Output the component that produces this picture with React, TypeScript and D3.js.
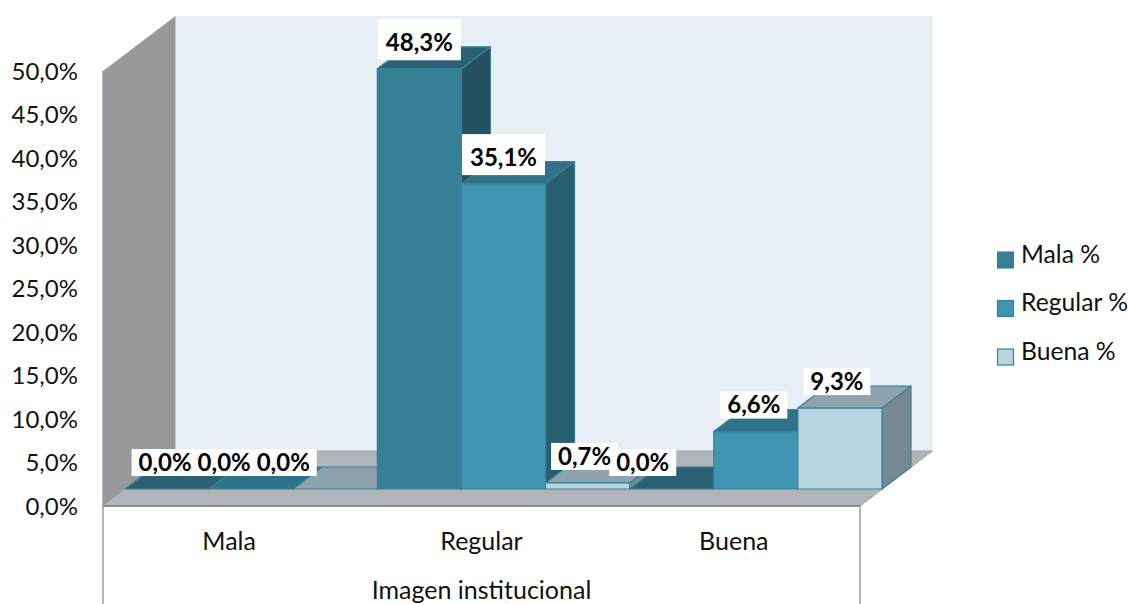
import React from "react";
import * as d3 from "d3";

// Survey results for "Imagen institucional", percentages per answer group.
const categories = ["Mala", "Regular", "Buena"];
const seriesNames = ["Mala %", "Regular %", "Buena %"];
const malaValues = [0.0, 48.3, 0.0];
const regularValues = [0.0, 35.1, 6.6];
const buenaValues = [0.0, 0.7, 9.3];
const axisTicks = [0, 5, 10, 15, 20, 25, 30, 35, 40, 45, 50];
const axisTitle = "Imagen institucional";

// Horizontal nudges that keep neighbouring value labels from colliding.
const labelNudge = [
  [-2, -27, -52],
  [0, 0, -3],
  [-29, -2, -3],
];

const W = 1128;
const H = 604;
const FONT = "Lato, Carlito, 'Open Sans', sans-serif";
const comma = (v: number, d = 1) => v.toFixed(d).replace(".", ",");

const palettes = [
  { front: "#367f97", side: "#24505f", top: "#2a6273", edge: "#3a8199" },
  { front: "#4096b2", side: "#29606f", top: "#307287", edge: "#3a8199" },
  { front: "#b9d4e1", side: "#788890", top: "#8ea3ae", edge: "#3a8199" },
];

const pts = (p: [number, number][]) => p.map((q) => q.join(",")).join(" ");

export default function App() {
  // Oblique projection: the wall scale is measured on the front plane,
  // bars stand part way into the floor.
  const frontLeft = 103;
  const frontRight = 860;
  const depthX = 72.5;
  const depthY = 55;
  const yAxis = d3.scaleLinear().domain([0, 50]).range([506, 71]);
  const bandX = d3.scaleBand<string>().domain(categories).range([frontLeft, frontRight]);

  const barBase = 489;
  const barDX = 29;
  const barDY = 22;
  const barH = d3.scaleLinear().domain([0, 50]).range([0, yAxis(0) - yAxis(50)]);
  const barStart = d3
    .scaleBand<string>()
    .domain(categories)
    .range([125, 882]);
  const inner = d3
    .scaleBand<number>()
    .domain([0, 1, 2])
    .range([0, barStart.bandwidth()]);

  const table = [malaValues, regularValues, buenaValues];
  const bars = categories.flatMap((cat, c) =>
    table.map((vals, s) => {
      const x0 = (barStart(cat) as number) + (inner(s) as number);
      const x1 = x0 + inner.bandwidth();
      const top = barBase - barH(vals[c]);
      return { c, s, v: vals[c], x0, x1, top };
    })
  );

  const yTop = yAxis(50);
  const yBot = yAxis(0);
  const legendY = d3.scalePoint<string>().domain(seriesNames).range([260, 357]);

  return (
    <svg
      width={W}
      height={H}
      viewBox={`0 0 ${W} ${H}`}
      style={{ position: "fixed", left: 0, top: 0, background: "#fff" }}
      fontFamily={FONT}
    >
      {/* back wall */}
      <rect
        x={frontLeft + depthX}
        y={yTop - depthY}
        width={frontRight - frontLeft}
        height={yBot - yTop}
        fill="#e7eef6"
      />
      {/* side wall */}
      <polygon
        points={pts([
          [frontLeft, yTop],
          [frontLeft + depthX, yTop - depthY],
          [frontLeft + depthX, yBot - depthY],
          [frontLeft, yBot],
        ])}
        fill="#97999d"
      />
      {/* floor */}
      <polygon
        points={pts([
          [frontLeft, yBot],
          [frontLeft + depthX, yBot - depthY],
          [frontRight + depthX, yBot - depthY],
          [frontRight, yBot],
        ])}
        fill="#b0b5b9"
        stroke="#a0a4a8"
        strokeWidth={1}
      />
      <line x1={frontLeft} x2={frontRight} y1={yBot} y2={yBot} stroke="#8b8c8e" strokeWidth={2} />
      <line x1={frontLeft} x2={frontLeft} y1={yTop} y2={H} stroke="#9a9b9e" strokeWidth={1.5} />
      <line x1={frontRight} x2={frontRight} y1={yBot} y2={H} stroke="#9a9b9e" strokeWidth={1.5} />

      {/* bars, painted left to right so each front hides its neighbour's side */}
      {bars.map((b) => {
        const p = palettes[b.s];
        return (
          <g key={`${b.c}-${b.s}`} stroke={p.edge} strokeWidth={1.2} strokeLinejoin="round">
            <polygon
              points={pts([
                [b.x1, b.top],
                [b.x1 + barDX, b.top - barDY],
                [b.x1 + barDX, barBase - barDY],
                [b.x1, barBase],
              ])}
              fill={p.side}
            />
            <polygon
              points={pts([
                [b.x0, b.top],
                [b.x0 + barDX, b.top - barDY],
                [b.x1 + barDX, b.top - barDY],
                [b.x1, b.top],
              ])}
              fill={p.top}
            />
            <rect x={b.x0} y={b.top} width={b.x1 - b.x0} height={barBase - b.top} fill={p.front} />
          </g>
        );
      })}

      {/* value labels: white plates first, so text is never covered */}
      {bars.map((b) => {
        const cx = (b.x0 + b.x1) / 2 + labelNudge[b.c][b.s];
        const tall = b.v > 20;
        const cy = b.top - (tall ? 29 : 26.5);
        const w = tall ? 83 : 67;
        const h = tall ? 41 : 27;
        return (
          <rect key={`p${b.c}-${b.s}`} x={cx - w / 2} y={cy - h / 2} width={w} height={h} fill="#fff" />
        );
      })}
      {bars.map((b) => (
        <text
          key={`t${b.c}-${b.s}`}
          x={(b.x0 + b.x1) / 2 + labelNudge[b.c][b.s]}
          y={b.top - 26.5}
          dy="0.35em"
          textAnchor="middle"
          fontWeight={700}
          fontSize={24}
          fill="#000"
        >
          {comma(b.v)}%
        </text>
      ))}

      {/* value axis */}
      {axisTicks.map((t) => (
        <text key={t} x={78} y={yAxis(t) + 0.5} dy="0.35em" textAnchor="end" fontSize={24} fill="#111">
          {comma(t)}%
        </text>
      ))}

      {/* category axis */}
      {categories.map((c) => (
        <text
          key={c}
          x={(bandX(c) as number) + bandX.bandwidth() / 2}
          y={541}
          dy="0.35em"
          textAnchor="middle"
          fontSize={25}
          fill="#111"
        >
          {c}
        </text>
      ))}
      <text x={(frontLeft + frontRight) / 2} y={590} dy="0.35em" textAnchor="middle" fontSize={25} fill="#111">
        {axisTitle}
      </text>

      {/* legend */}
      {seriesNames.map((n, i) => (
        <g key={n}>
          <rect
            x={997.5}
            y={(legendY(n) as number) - 8}
            width={16}
            height={16}
            fill={palettes[i].front}
            stroke={palettes[i].edge}
            strokeWidth={1.2}
          />
          <text x={1021} y={(legendY(n) as number) - 6} dy="0.35em" fontSize={24.7} fill="#111">
            {n}
          </text>
        </g>
      ))}
    </svg>
  );
}
